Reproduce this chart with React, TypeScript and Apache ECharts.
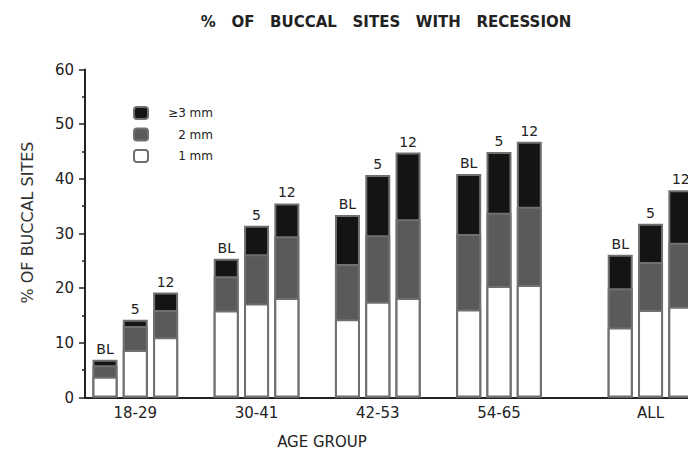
import React, { useEffect, useRef } from "react";
import * as echarts from "echarts";

const groups = ["18-29", "30-41", "42-53", "54-65", "ALL"];
const groupSlots = [1, 5, 9, 13, 18];
const barSlots = [0, 1, 2, 4, 5, 6, 8, 9, 10, 12, 13, 14, 17, 18, 19];
const barLabels = ["BL", "5", "12", "BL", "5", "12", "BL", "5", "12", "BL", "5", "12", "BL", "5", "12"];
const legendNames = ["\u22653 mm", "2 mm", "1 mm"];
const mm1 = [3.8, 8.7, 11.0, 15.9, 17.2, 18.2, 14.3, 17.5, 18.2, 16.1, 20.4, 20.6, 12.8, 16.0, 16.6];
const mm2 = [2.1, 4.4, 5.0, 6.3, 9.0, 11.3, 10.1, 12.2, 14.4, 13.8, 13.4, 14.3, 7.2, 8.8, 11.7];
const mm3 = [1.0, 1.1, 3.2, 3.2, 5.2, 6.0, 9.0, 11.0, 12.2, 11.0, 11.1, 11.9, 6.1, 7.0, 9.6];
const yTicks = [0, 10, 20, 30, 40, 50, 60];

const FONT = "DejaVu Sans";

export default function App() {
  const ref = useRef<HTMLDivElement>(null);
  useEffect(() => {
    if (!ref.current) return;
    const chart = echarts.init(ref.current, null, { renderer: "svg" });
    // visual stacking: draw cumulative tops, tallest first, each overlapping the previous
    const cum2 = mm1.map((v, i) => v + mm2[i]);
    const cum3 = cum2.map((v, i) => v + mm3[i]);
    const layers = [
      { name: legendNames[0], vals: cum3, color: "#141414", top: true },
      { name: legendNames[1], vals: cum2, color: "#5a5a5a", top: false },
      { name: legendNames[2], vals: mm1, color: "#ffffff", top: false },
    ];
    const series = layers.map((l) => ({
      name: l.name,
      type: "bar",
      barWidth: 25,
      barGap: "-100%",
      data: l.vals.map((v, i) => [barSlots[i], +v.toFixed(2)]),
      itemStyle: { color: l.color, borderColor: "#707070", borderWidth: 2 },
      label: l.top
        ? {
            show: true,
            position: "top",
            distance: 4,
            fontFamily: FONT,
            fontSize: 14,
            color: "#222",
            formatter: (p: any) => barLabels[p.dataIndex],
          }
        : { show: false },
    }));
    chart.setOption({
      animation: false,
      backgroundColor: "#ffffff",
      title: [
        {
          text: "%   OF   BUCCAL   SITES   WITH   RECESSION",
          left: 386,
          top: 14,
          padding: 0,
          textAlign: "center",
          textStyle: { fontFamily: FONT, fontSize: 15, fontWeight: "bold", color: "#222" },
        },
        {
          text: "AGE GROUP",
          left: 322,
          top: 434,
          padding: 0,
          textAlign: "center",
          textStyle: { fontFamily: FONT, fontSize: 15, fontWeight: "normal", color: "#222" },
        },
      ],
      legend: {
        orient: "vertical",
        left: 128,
        top: 101,
        itemWidth: 14,
        itemHeight: 12,
        itemGap: 7.5,
        data: legendNames,
        formatter: (name: string) => "{a|" + name + "}",
        textStyle: {
          fontFamily: FONT,
          fontSize: 12,
          color: "#222",
          rich: { a: { width: 60, align: "right", fontFamily: FONT, fontSize: 12, color: "#222" } },
        },
      },
      grid: { left: 85, right: 0, top: 69.5, bottom: 60.5, containLabel: false },
      xAxis: {
        type: "value",
        min: -0.66,
        max: 19.5,
        splitLine: { show: false },
        axisLine: { show: true, onZero: false, lineStyle: { color: "#222", width: 2 } },
        axisTick: { show: false },
        axisLabel: {
          customValues: groupSlots,
          formatter: (v: number) => {
            const i = groupSlots.indexOf(Math.round(v));
            return i >= 0 ? groups[i] : "";
          },
          fontFamily: FONT,
          fontSize: 15,
          color: "#222",
          margin: 8,
        },
      },
      yAxis: {
        type: "value",
        min: 0,
        max: 60,
        interval: 10,
        name: "% OF BUCCAL SITES",
        nameLocation: "middle",
        nameGap: 50,
        nameTextStyle: { fontFamily: FONT, fontSize: 16, color: "#333", padding: [0, 0, 0, 22] },
        splitLine: { show: false },
        axisLine: { show: true, onZero: false, lineStyle: { color: "#222", width: 2 } },
        axisTick: { show: true, length: 6, lineStyle: { color: "#222", width: 1.5 } },
        minorTick: { show: true, splitNumber: 2, length: 3, lineStyle: { color: "#222", width: 1.5 } },
        axisLabel: {
          fontFamily: FONT,
          fontSize: 15,
          color: "#222",
          margin: 11,
          customValues: yTicks,
        },
      },
      series,
    });
    return () => chart.dispose();
  }, []);
  return <div ref={ref} style={{ width: 696, height: 458, margin: -8 }} />;
}
